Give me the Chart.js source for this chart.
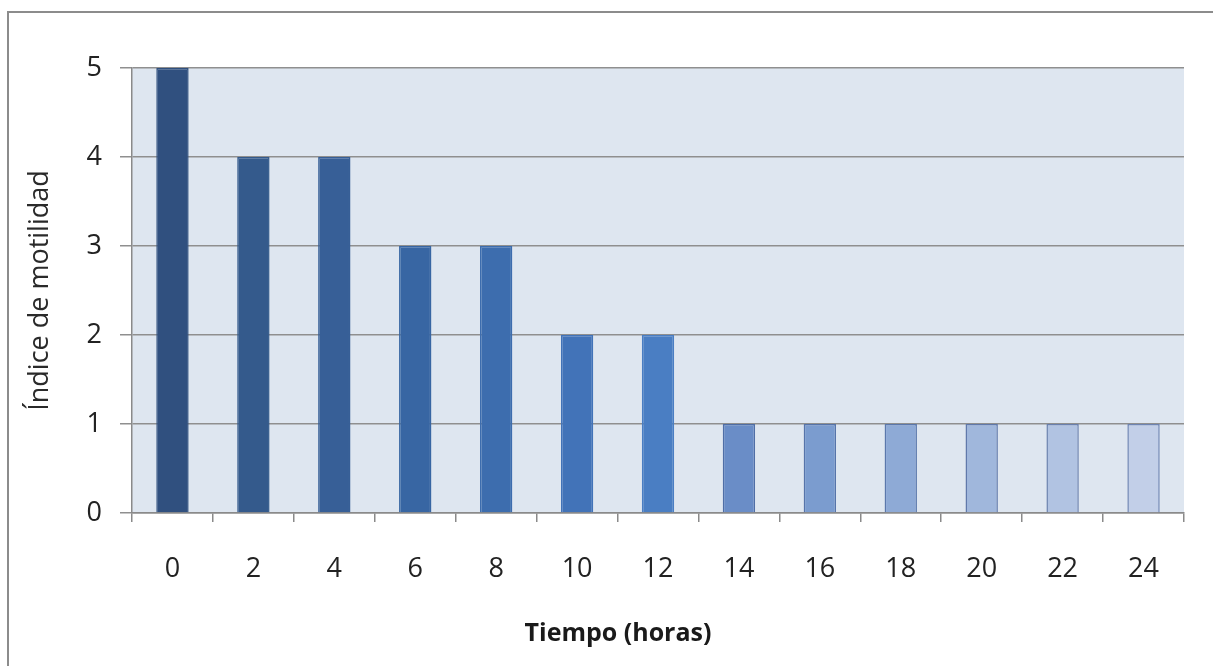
<!DOCTYPE html>
<html>
<head>
<meta charset="utf-8">
<script src="https://cdn.jsdelivr.net/npm/chart.js@4"></script>
<style>
  html, body { margin: 0; padding: 0; background: #ffffff; }
  #wrap { position: relative; width: 1213px; height: 666px; overflow: hidden; }
  canvas { display: block; }
</style>
</head>
<body>
<div id="wrap"><canvas id="chart" width="1213" height="666"></canvas></div>
<script>
// Motility index over time (hours)
const hours = ['0', '2', '4', '6', '8', '10', '12', '14', '16', '18', '20', '22', '24'];
const motility = [5, 4, 4, 3, 3, 2, 2, 1, 1, 1, 1, 1, 1];
const yTicks = [0, 1, 2, 3, 4, 5];

// Per-bar fill shades, dark navy fading to pale blue
const barColors = ['#30507f', '#345a8c', '#375f97', '#3866a3', '#3d6dae', '#4273b8', '#4a7ec3',
                   '#6a8dc7', '#7b9ccf', '#8eaad6', '#a0b7dc', '#b1c3e2', '#c2cfe8'];
const barBorders = ['#30507f', '#345a8c', '#375f97', '#3866a3', '#3d6dae', '#4273b8', '#4a7ec3',
                    '#4f6ea6', '#5674aa', '#5b78ac', '#6079ab', '#6a80ae', '#6e84b2'];

const FONT = '"Open Sans", "Noto Sans", sans-serif';
const AREA = { left: 132, top: 68, right: 1184, bottom: 513 };

const frameAndBackground = {
  id: 'frameAndBackground',
  beforeDraw(chart) {
    const ctx = chart.ctx;
    const a = chart.chartArea;
    ctx.save();
    // outer chart frame
    ctx.strokeStyle = '#8c8c8c';
    ctx.lineWidth = 2;
    ctx.beginPath();
    ctx.moveTo(8, 700);
    ctx.lineTo(8, 12);
    ctx.lineTo(1240, 12);
    ctx.stroke();
    // plot area fill
    ctx.fillStyle = '#dee6f0';
    ctx.fillRect(a.left, a.top, a.right - a.left, a.bottom - a.top);
    ctx.restore();
  }
};

const xTitle = {
  id: 'xTitle',
  afterDraw(chart) {
    const ctx = chart.ctx;
    ctx.save();
    ctx.fillStyle = '#1a1a1a';
    ctx.font = 'bold 25px ' + FONT;
    ctx.textAlign = 'center';
    ctx.textBaseline = 'middle';
    ctx.fillText('Tiempo (horas)', 618, 634);
    ctx.restore();
  }
};

new Chart(document.getElementById('chart'), {
  type: 'bar',
  data: {
    labels: hours,
    datasets: [{
      data: motility,
      backgroundColor: barColors,
      borderColor: barBorders,
      borderWidth: 1.5,
      barPercentage: 0.4,
      categoryPercentage: 1.0
    }]
  },
  options: {
    responsive: false,
    animation: false,
    layout: { padding: { left: 0, top: AREA.top, right: 1213 - AREA.right, bottom: 0 } },
    plugins: { legend: { display: false }, tooltip: { enabled: false } },
    scales: {
      x: {
        grid: { drawOnChartArea: false, drawTicks: true, tickLength: 9, color: '#8a8a8a', lineWidth: 1.5, offset: true },
        border: { display: true, color: '#8a8a8a', width: 1.5 },
        ticks: { color: '#222222', font: { family: FONT, size: 27 }, padding: 31, maxRotation: 0 },
        afterFit(scale) { scale.height = 666 - AREA.bottom; }
      },
      y: {
        min: 0,
        max: 5,
        afterBuildTicks(scale) { scale.ticks = yTicks.map(v => ({ value: v })); },
        grid: { color: '#8f8f8f', lineWidth: 1.5, drawTicks: true, tickLength: 12 },
        border: { display: true, color: '#8a8a8a', width: 1.5 },
        ticks: { color: '#222222', font: { family: FONT, size: 27 }, padding: 18 },
        title: { display: true, text: 'Índice de motilidad', color: '#2a2a2a', font: { family: FONT, size: 27 }, padding: { top: 24, bottom: 0 } },
        afterFit(scale) { scale.width = AREA.left; }
      }
    }
  },
  plugins: [frameAndBackground, xTitle]
});
</script>
</body>
</html>
